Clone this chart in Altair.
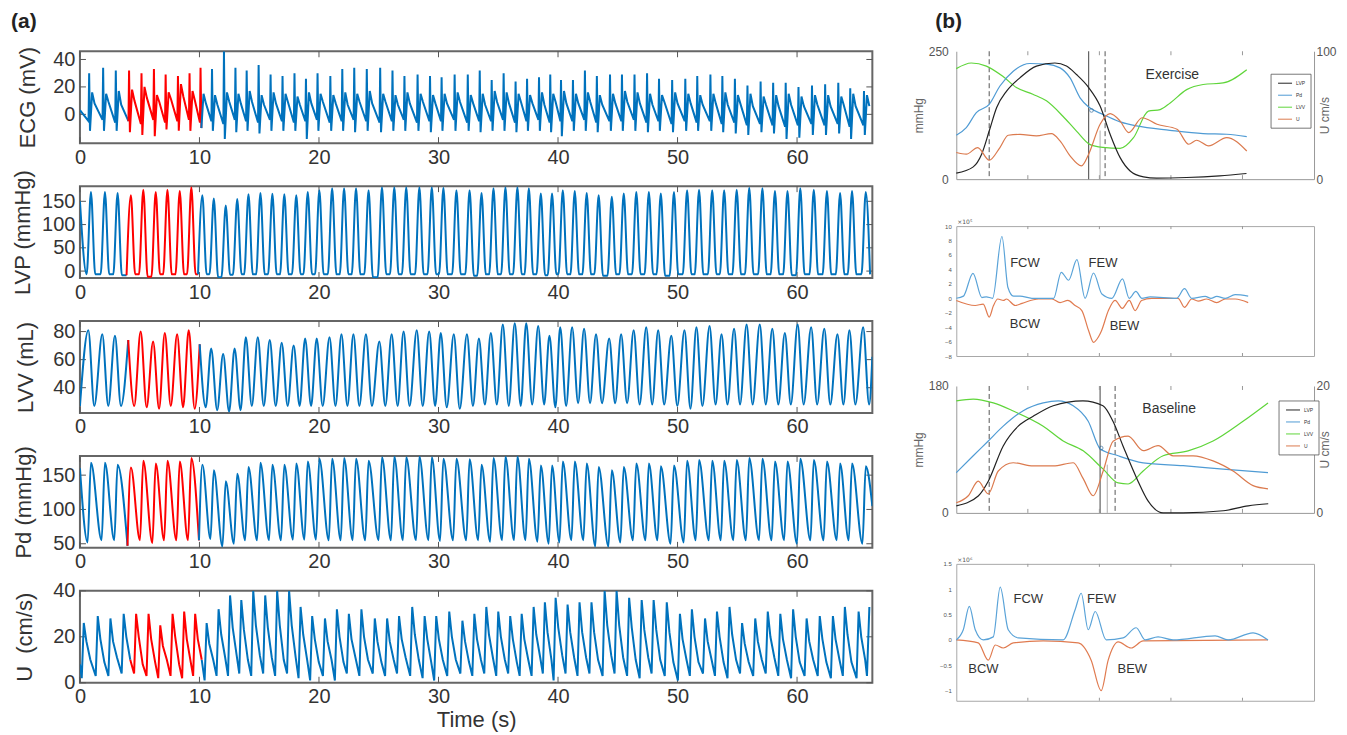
import altair as alt
import pandas as pd

FONT = "Liberation Sans"
BLUE = "#0072BD"
RED = "#FF0000"
INK = "#333333"

# ======================= (a) values =======================
BEAT_T = [0.92, 2.09, 3.15, 4.26, 5.30, 6.34, 7.32, 8.35, 9.32, 10.24,
          11.2, 12.2, 13.16, 14.1, 15.1, 16.1, 17.1, 18.1, 19.06, 20.03,
          21.1, 22.1, 23.1, 24.15, 25.27, 26.3, 27.3, 28.4, 29.44, 30.41,
          31.5, 32.6, 33.6, 34.6, 35.6, 36.6, 37.56, 38.56, 39.5, 40.4,
          41.4, 42.4, 43.4, 44.5, 45.5, 46.55, 47.6, 48.6, 49.7, 50.8,
          51.8, 52.9, 53.9, 54.95, 56.0, 57.1, 58.15, 59.2, 60.27, 61.4,
          62.5, 63.6, 64.6, 65.75]

ECG_R = [30, 34, 32, 32, 30, 33, 29, 28, 30, 34,
         33, 46, 34, 32, 36, 29, 28, 30, 26, 30,
         28, 33, 34, 33, 34, 32, 28, 29, 28, 27,
         29, 29, 32, 25, 30, 24, 26, 27, 29, 25,
         25, 32, 28, 29, 29, 29, 30, 26, 25, 26,
         28, 29, 28, 26, 21, 24, 23, 23, 20, 21,
         22, 23, 19, 17]
ECG_S = [-12, -12, -12, -13, -15, -16, -11, -12, -12, -10,
         -12, -18, -13, -12, -14, -12, -12, -12, -18, -12,
         -12, -12, -13, -12, -13, -12, -12, -12, -13, -12,
         -12, -12, -13, -12, -12, -13, -12, -12, -13, -16,
         -12, -12, -13, -12, -12, -12, -13, -12, -13, -12,
         -12, -12, -13, -14, -15, -13, -14, -18, -17, -15,
         -15, -14, -18, -15]
ECG_T = [16, 15, 17, 18, 20, 14, 16, 22, 17, 15,
         14, 16, 15, 17, 14, 16, 15, 13, 16, 15,
         14, 16, 15, 17, 15, 14, 16, 15, 14, 15,
         16, 14, 15, 17, 16, 15, 14, 16, 15, 17,
         15, 16, 14, 15, 17, 16, 15, 14, 16, 15,
         14, 15, 16, 14, 15, 13, 14, 15, 13, 14,
         14, 13, 15, 14]
ECG_D = [-5, -4, -6, -5, -7, -4, -6, -5, -4, -6,
         -5, -7, -4, -5, -6, -4, -5, -6, -5, -4,
         -6, -5, -4, -5, -6, -5, -4, -6, -5, -5,
         -4, -6, -5, -5, -4, -6, -5, -4, -6, -5,
         -5, -4, -6, -5, -5, -4, -6, -5, -7, -5,
         -6, -5, -7, -6, -8, -7, -8, -9, -8, -7,
         -8, -7, -9, -8]
ECG_E = [8, 9, 7, 10, 12, 9, 11, 13, 10, 8,
         7, 9, 8, 9, 7, 8, 9, 7, 8, 9,
         8, 7, 9, 8, 9, 7, 8, 9, 8, 8,
         9, 8, 7, 9, 8, 9, 8, 7, 9, 8,
         8, 9, 7, 8, 9, 8, 7, 9, 8, 8,
         7, 8, 7, 8, 6, 7, 6, 7, 6, 7,
         6, 7, 6, 6]
ECG_T0 = 3

LVP_PK = [170, 170, 168, 163, 175, 170, 175, 172, 180, 163,
          156, 141, 155, 165, 168, 166, 165, 163, 170, 174,
          178, 178, 178, 174, 180, 180, 180, 180, 180, 179,
          174, 174, 168, 178, 180, 180, 178, 167, 167, 174,
          172, 168, 163, 160, 167, 170, 170, 167, 170, 174,
          175, 174, 174, 175, 179, 178, 172, 172, 178, 175,
          172, 168, 172, 170]
LVP_MIN = [-7, -7, -7, -9, -7, -12, -7, -7, -7, -7,
           -7, -13, -8, -7, -7, -7, -7, -7, -7, -7,
           -7, -7, -7, -7, -13, -7, -7, -7, -7, -7,
           -7, -7, -10, -7, -7, -7, -7, -7, -9, -7,
           -7, -7, -7, -10, -7, -7, -7, -7, -10, -7,
           -7, -7, -7, -7, -7, -7, -7, -7, -9, -7,
           -7, -7, -7, -7]
LVP_T0, LVP_END = 150, -7

LVV_PK = [81, 78, 77, 74, 80, 73, 79, 78, 81, 71,
          68, 64, 68, 76, 76, 74, 72, 70, 75, 75,
          76, 78, 78, 78, 73, 78, 80, 81, 80, 79,
          78, 78, 75, 79, 85, 86, 86, 84, 77, 83,
          83, 82, 78, 75, 78, 81, 83, 81, 77, 81,
          83, 84, 78, 82, 85, 85, 82, 79, 85, 83,
          82, 78, 81, 83]
LVV_MIN = [27, 27, 27, 27, 26, 25, 27, 26, 25, 26,
           24, 23, 24, 27, 27, 27, 27, 27, 27, 27,
           27, 27, 27, 27, 27, 27, 27, 27, 27, 26,
           25, 27, 28, 28, 27, 27, 28, 28, 26, 27,
           29, 29, 29, 29, 29, 28, 28, 28, 27, 25,
           27, 28, 28, 28, 28, 28, 28, 28, 28, 28,
           28, 28, 28, 28]
LVV_T0, LVV_END = 27, 62

PD_PK = [168, 168, 165, 161, 171, 167, 171, 170, 175, 165,
         157, 141, 152, 162, 168, 165, 165, 167, 170, 174,
         174, 175, 174, 171, 176, 177, 176, 177, 176, 174,
         174, 173, 165, 175, 177, 177, 174, 164, 164, 170,
         170, 167, 162, 157, 162, 167, 167, 163, 164, 171,
         172, 171, 171, 172, 175, 174, 170, 170, 174, 172,
         170, 167, 167, 163]
PD_MIN = [52, 55, 55, 47, 55, 51, 55, 55, 55, 55,
          57, 46, 50, 55, 55, 55, 55, 56, 56, 56,
          55, 55, 55, 55, 55, 55, 55, 55, 55, 54,
          55, 55, 55, 53, 55, 55, 55, 53, 50, 52,
          55, 55, 46, 46, 52, 55, 55, 55, 50, 52,
          55, 55, 55, 55, 55, 55, 55, 55, 50, 55,
          55, 55, 55, 50]
PD_T0, PD_END = 160, 105

U_PK = [26, 29, 28, 30, 30, 30, 25, 30, 31, 30,
        26, 32, 38, 36, 40, 38, 40, 40, 33, 29,
        28, 32, 30, 32, 28, 28, 29, 33, 29, 29,
        31, 27, 30, 33, 31, 29, 30, 33, 35, 37,
        34, 35, 35, 40, 40, 37, 36, 36, 35, 30,
        32, 28, 31, 33, 26, 28, 31, 30, 32, 28,
        29, 29, 33, 31]
U_SH = [18, 19, 18, 20, 20, 19, 16, 20, 19, 19,
        17, 21, 24, 23, 25, 24, 25, 25, 21, 19,
        18, 20, 19, 20, 18, 18, 19, 21, 19, 19,
        20, 18, 19, 21, 20, 19, 19, 21, 22, 24,
        22, 22, 22, 25, 25, 24, 23, 23, 22, 19,
        20, 18, 20, 21, 17, 18, 20, 19, 20, 18,
        19, 19, 21, 20]
U_MID = [10, 9, 11, 10, 8, 9, 10, 8, 9, 10,
         10, 11, 12, 10, 12, 11, 10, 11, 10, 9,
         10, 9, 11, 10, 9, 10, 11, 10, 9, 10,
         10, 9, 10, 11, 10, 9, 10, 11, 10, 12,
         11, 11, 10, 12, 11, 10, 11, 10, 9, 10,
         9, 10, 9, 10, 9, 10, 11, 10, 9, 10,
         9, 10, 9, 10]
U_MIN = [2, 3, 3, 4, 4, 3, 2, 3, 2, 3,
         1, 3, 3, 4, 3, 4, 3, 4, 2, 1,
         3, 1, 4, 3, 4, 3, 4, 3, 2, 1,
         3, 4, 3, 4, 3, 4, 3, 3, 4, 1,
         4, 3, 4, 3, 4, 3, 2, 4, 3, 1,
         3, 4, 3, 2, 4, 3, 4, 3, 2, 3,
         3, 2, 3, 2]
U_T0 = 8
U_TAIL_T = [65.85, 66.05]
U_TAIL_V = [3, 33]

for arr in (ECG_R, ECG_S, ECG_T, ECG_D, ECG_E, LVP_PK, LVP_MIN, LVV_PK, LVV_MIN,
            PD_PK, PD_MIN, U_PK, U_SH, U_MID, U_MIN):
    assert len(arr) == len(BEAT_T), len(arr)

XT = [0, 10, 20, 30, 40, 50, 60]

# ======================= (b) values =======================
EX_X_LVP = [0, 23.7, 35.4, 46, 56.3, 70.3, 88.9, 112, 137.8, 154, 168, 185.3, 201, 215, 229, 243, 261.6, 280, 322, 368, 405.6]
EX_LVP = [11.7, 24, 48.7, 94, 139.6, 172, 198, 221, 227, 221, 204.5, 178.6, 143, 87.7, 42, 16, 4.5, 2, 3.2, 6.5, 11]
EX_X_PD = [0, 14, 28, 46, 61, 79.6, 103, 126, 145, 159, 173, 185, 205, 229, 252, 298.6, 345, 378, 406]
EX_PD = [85.7, 100.7, 130, 146, 182, 211, 226, 225, 217.5, 198, 159, 141, 126.6, 112, 104, 95.5, 89, 87.7, 83]
EX_X_LVV = [0, 21, 42, 65, 84, 107, 126, 149, 168, 186.5, 205, 229, 247.7, 268.5, 285, 299, 322, 345, 373, 406]
EX_LVV = [216, 227, 221, 201, 179, 166, 153, 123, 94, 68, 62, 60, 81, 133, 136, 149, 175, 185, 188, 214]
EX_X_U = [0, 14, 30, 46, 61, 72.6, 89, 112, 133, 145, 159, 175, 185, 201, 215, 229, 241, 259.8, 280.5, 308.5, 324.8, 336, 352.6, 378, 406]
EX_U = [20.8, 19.5, 24.7, 14.8, 24.7, 34.3, 35, 33.8, 35.6, 29.9, 18.2, 10.4, 19.5, 42.9, 51.2, 45.4, 36.4, 48, 42.9, 39, 27.3, 30.4, 26, 32.5, 22]
EX_DASH = [46, 208]
EX_SOLID = [185]
EX_THIN = [201]
EX_MARK = [189, 134.4]

BL_X_LVP = [0, 30.7, 44.7, 65.6, 86.6, 107.5, 135.5, 177, 205, 219, 233, 254, 268, 289, 317, 373, 408, 436]
BL_LVP = [10, 24, 45, 95, 123, 137, 152, 159, 152, 130, 95, 45, 17, 0, 0, 3, 10, 13]
BL_X_PD = [0, 23.7, 44.7, 65.6, 93.6, 121.5, 142.5, 163.4, 184.4, 201.1, 226.3, 261.2, 317, 372.9, 435.7]
BL_PD = [57, 81, 102, 123, 145, 156, 159, 152, 130, 91, 81, 71, 67, 62, 57]
BL_X_LVV = [0, 23.7, 51.7, 79.6, 121.5, 149.4, 177.4, 205.3, 226.3, 240.2, 261.2, 289.1, 324, 358.9, 400.8, 435.7]
BL_LVV = [159, 161.5, 156, 144.5, 123, 102, 88, 62, 42.5, 41, 59.5, 81, 88, 102, 130, 156]
BL_X_U = [0, 16.8, 30.7, 44.7, 58.7, 79.6, 107.5, 135.5, 163.4, 177.4, 191.3, 205.3, 219.2, 240.2, 261.2, 282.1, 303.1, 331, 358.9, 386.8, 414.8, 435.7]
BL_U = [1.6, 2.7, 5, 3, 6.6, 7.9, 7.4, 7.4, 7.9, 5.4, 2.7, 6.6, 11.3, 12.1, 9.8, 10.6, 9, 9, 8.2, 6.6, 4.3, 3.8]
BL_DASH = [46, 222]
BL_SOLID = [201]
BL_THIN = [211]
BL_MARK = [202.5, 92]

W1_FX = [0, 10, 23.3, 35.8, 42, 50.7, 63.8, 72.2, 80, 89, 105.7, 136, 146.7, 157, 168.6, 180, 191.8, 203.5, 217.5, 232.3,
         241.7, 251, 259.4, 271, 308, 319, 329, 348, 356, 364, 376, 389.7, 408]
W1_F = [0, 0.3, 3.46, 0.1, 0.2, 0, 8.56, 1.5, 0.3, 0.3, 0, 0, 3.6, 2.5, 5.36, 0, 3.5, 0.6, 0, 2.7,
        0, 0.95, 0, 0.2, 0, 1.33, 0, 0.25, 0, 0.25, 0, 0.5, 0.3]
W1_BX = [0, 26.5, 37.7, 46, 52, 58, 66, 70, 82.4, 92, 115, 133.7, 145, 156, 166, 175.5, 185, 191.8, 199, 203,
         212.6, 222, 232, 241.7, 250, 259, 273, 310, 319, 329, 338, 350, 364, 376, 390, 408]
W1_B = [-0.3, -1.0, -0.8, -2.6, -1.0, -0.1, -0.3, -0.1, -1.0, -0.7, -0.1, -0.1, -0.6, -0.3, -1.0, -1.7, -4.5, -6.1, -5.3, -4.5,
        -1.7, -0.3, -1.4, -0.3, -1.7, -0.3, 0, 0, -1.25, -0.1, -0.4, -0.1, -0.6, -0.1, -0.1, -0.6]
W1_LABELS = ["FCW", "FEW", "BCW", "BEW"]
W1_LX = [96, 205, 96, 235]
W1_LV = [4.9, 4.9, -3.6, -3.85]

W2_FX = [0, 9.8, 18.2, 26.5, 37.7, 51.7, 61.4, 72.6, 86.6, 149.4, 166.2, 174.6, 184.4, 194.2, 209.5, 233.2, 251.4, 264,
         282, 303, 361.7, 380, 414.8, 435.7]
W2_F = [0, 0.2, 0.66, 0.2, 0, 0.06, 1.04, 0.2, 0.04, 0, 0.6, 0.92, 0.2, 0.56, 0, 0.04, 0.24, 0,
        0.06, 0, 0.08, 0, 0.14, 0]
W2_BX = [0, 30.7, 44.7, 54.5, 65.6, 79.6, 121.5, 170.4, 188.5, 202.5, 212.3, 226.3, 244.4, 261.2, 435.7]
W2_B = [0, -0.06, -0.4, -0.1, -0.16, -0.06, -0.02, -0.06, -0.4, -1.0, -0.4, -0.04, -0.16, -0.02, 0]
W2_LABELS = ["FCW", "FEW", "BCW", "BEW"]
W2_LX = [100.6, 203, 38, 246]
W2_LV = [0.81, 0.81, -0.57, -0.57]

SER = ["LVP", "Pd", "LVV", "U"]
SER_COL = ["#222222", "#4F9BD4", "#5FD53A", "#DB7A4E"]
WBLUE, WORANGE = "#5AA3D8", "#E07B50"


# ======================= helpers =======================
def segmented(verts, lo, hi):
    rows, part, prev = [], 0, None
    for t, v in verts:
        seg = "red" if lo <= t <= hi else "blue"
        if prev is not None and seg != prev:
            rows.append({"t": t, "v": v, "seg": prev, "part": part})
            part += 1
        rows.append({"t": t, "v": v, "seg": seg, "part": part})
        prev = seg
    df = pd.DataFrame(rows)
    df["o"] = range(len(df))
    return df


n = len(BEAT_T)
ecg_v = [(0.0, ECG_T0)]
lvp_v = [(0.0, LVP_T0)]
lvv_v = [(0.0, LVV_T0)]
pd_v = [(0.0, PD_T0)]
u_v = [(0.0, U_T0)]
for i, tp in enumerate(BEAT_T):
    tr = tp - 0.15
    ecg_v += [(tr - 0.05, ECG_D[i]), (tr, ECG_R[i]), (tr + 0.07, ECG_S[i]),
              (tr + 0.25, ECG_T[i]), (tr + 0.45, ECG_E[i])]
    nxt = LVP_MIN[i + 1] if i + 1 < n else LVP_END
    lvp_v += [(tp - 0.36, LVP_MIN[i]), (tp, LVP_PK[i]), (tp + 0.36, nxt)]
    lvv_v += [(tp - 0.22, LVV_PK[i]), (tp + 0.28, LVV_MIN[i])]
    pd_v += [(tp - 0.28, PD_MIN[i]), (tp, PD_PK[i])]
    tu = tp - 0.6
    u_v += [(tu - 0.17, U_MIN[i]), (tu, U_PK[i]), (tu + 0.22, U_SH[i]), (tu + 0.55, U_MID[i])]
lvv_v.append((66.3, LVV_END))
pd_v.append((66.3, PD_END))
u_v += list(zip(U_TAIL_T, U_TAIL_V))

W_A, H_A = 793, 92


def a_panel(df, ydom, yticks, title, title_x, interp, xtitle=None, extra=()):
    xs = alt.Scale(domain=[0, 66.3], nice=False, zero=False)
    ys = alt.Scale(domain=ydom, nice=False, zero=False)
    xax = alt.Axis(values=XT, format="d", title=xtitle, tickSize=0, domain=False, grid=False,
                   labelPadding=4, labelFlush=False, labelFontSize=20, labelColor=INK,
                   titleFontSize=22, titleColor=INK, titleFontWeight="normal", titlePadding=3)
    yax = alt.Axis(values=yticks, format="d", title=title, tickSize=0, domain=False, grid=False,
                   labelPadding=5, labelFontSize=20, labelColor=INK,
                   titleFontSize=22, titleColor=INK, titleFontWeight="normal",
                   titleX=title_x, titleY=H_A / 2, titleAngle=270, titleBaseline="middle",
                   titleAlign="center")
    X = alt.X("t:Q", scale=xs, axis=xax)
    Y = alt.Y("v:Q", scale=ys, axis=yax)
    tx = pd.DataFrame({"t": XT})
    ty = pd.DataFrame({"v": yticks})
    rule = dict(color="#555555", strokeWidth=1)
    layers = [
        alt.Chart(tx).mark_rule(**rule).encode(x=X, y=alt.value(0), y2=alt.value(6)),
        alt.Chart(tx).mark_rule(**rule).encode(x=X, y=alt.value(H_A - 6), y2=alt.value(H_A)),
        alt.Chart(ty).mark_rule(**rule).encode(y=Y, x=alt.value(0), x2=alt.value(6)),
        alt.Chart(ty).mark_rule(**rule).encode(y=Y, x=alt.value(W_A - 6), x2=alt.value(W_A)),
        alt.Chart(df).mark_line(strokeWidth=2, interpolate=interp, clip=True).encode(
            x=X, y=Y,
            color=alt.Color("seg:N", scale=alt.Scale(domain=["blue", "red"], range=[BLUE, RED]), legend=None),
            detail="part:N", order="o:Q"),
    ]
    layers += list(extra)
    return alt.layer(*layers).properties(
        width=W_A, height=H_A, view=alt.ViewBackground(stroke="#666666", strokeWidth=2))


tag_a = alt.Chart(pd.DataFrame({"k": [0]})).mark_text(
    text="(a)", fontSize=21, fontWeight="bold", align="left", baseline="top", color="#222222"
).encode(x=alt.value(-69), y=alt.value(-40))

ecg = a_panel(segmented(ecg_v, 3.85, 10.1), [-21, 46], [0, 20, 40], "ECG (mV)", -52, "linear", extra=[tag_a])
lvp = a_panel(segmented(lvp_v, 3.84, 9.8), [-15, 182.6], [0, 50, 100, 150], "LVP (mmHg)", -57, "monotone")
lvv = a_panel(segmented(lvv_v, 3.95, 9.95), [22, 87.5], [40, 60, 80], "LVV (mL)", -54, "monotone")
pdp = a_panel(segmented(pd_v, 3.84, 9.8), [44, 178], [50, 100, 150], "Pd (mmHg)", -56, "monotone")
uvp = a_panel(segmented(u_v, 3.9, 10.0), [0, 40], [0, 20, 40], "U\u00a0\u00a0(cm/s)", -55, "linear",
              xtitle="Time (s)")

A = alt.vconcat(ecg, lvp, lvv, pdp, uvp, spacing=43, bounds="flush")

# ======================= (b) =======================
W_B = 358
XB = [0, 100, 200, 300, 400, 500]
GREY = "#999999"
BLAB = "#555555"
ONE = pd.DataFrame({"k": [0]})


def legend_layers(lx, ly):
    out = [alt.Chart(ONE).mark_rect(fill="white", stroke="#555555", strokeWidth=0.8).encode(
        x=alt.value(lx), x2=alt.value(lx + 40), y=alt.value(ly), y2=alt.value(ly + 54))]
    for k, (name, col) in enumerate(zip(SER, SER_COL)):
        yy = ly + 9 + 12 * k
        out.append(alt.Chart(ONE).mark_rule(color=col, strokeWidth=1).encode(
            x=alt.value(lx + 7), x2=alt.value(lx + 21), y=alt.value(yy)))
        out.append(alt.Chart(ONE).mark_text(text=name, fontSize=5, color="#333333", align="left",
                                            baseline="middle").encode(x=alt.value(lx + 25), y=alt.value(yy)))
    return out


def b_main(H, left_top, right_top, lvp, pdv, lvv, u, dash, solid, thin, mark, label, lab_x, lab_v,
           leg_x, leg_y, tag=None):
    xs = alt.Scale(domain=[0, 500], nice=False, zero=False)
    xax = alt.Axis(values=XB, labels=False, ticks=False, title=None, grid=False,
                   domainColor=GREY, domainWidth=1)
    X = alt.X("x:Q", scale=xs, axis=xax)
    yl_ax = alt.Axis(values=[0, left_top], format="d", title="mmHg", orient="left", tickSize=0,
                     grid=False, domainColor=GREY, labelPadding=8, labelFontSize=12, labelColor=BLAB,
                     titleFontSize=12, titleColor="#666666", titleFontWeight="normal",
                     titleX=-38, titleY=H / 2, titleAngle=270, titleBaseline="middle", titleAlign="center")
    yr_ax = alt.Axis(values=[0, right_top], format="d", title="U cm/s", orient="right", tickSize=0,
                     grid=False, domainColor=GREY, labelPadding=2, labelFontSize=12, labelColor=BLAB,
                     titleFontSize=12, titleColor="#666666", titleFontWeight="normal",
                     titleX=10, titleY=H / 2, titleAngle=270, titleBaseline="middle", titleAlign="center")
    YL = alt.Y("v:Q", scale=alt.Scale(domain=[0, left_top], nice=False, zero=False), axis=yl_ax)
    YR = alt.Y("v:Q", scale=alt.Scale(domain=[0, right_top], nice=False, zero=False), axis=yr_ax)

    def line(xs_, vs_, col, Y):
        return alt.Chart(pd.DataFrame({"x": xs_, "v": vs_})).mark_line(
            strokeWidth=1.2, interpolate="monotone", color=col).encode(x=X, y=Y)

    marker = alt.Chart(pd.DataFrame({"x": [mark[0]], "v": [mark[1]]})).mark_point(
        shape="circle", size=14, filled=False, color="#3A6E9A", strokeWidth=1).encode(x=X, y=YL)
    txt = alt.Chart(pd.DataFrame({"x": [lab_x], "v": [lab_v], "label": [label]})).mark_text(
        fontSize=14, color=INK).encode(x=X, y=YL, text="label:N")
    left = alt.layer(line(lvv[0], lvv[1], SER_COL[2], YL), line(pdv[0], pdv[1], SER_COL[1], YL),
                     line(lvp[0], lvp[1], SER_COL[0], YL), marker, txt)
    right = line(u[0], u[1], SER_COL[3], YR)
    tk = pd.DataFrame({"x": XB[1:-1]})
    extra = [
        alt.Chart(pd.DataFrame({"x": dash})).mark_rule(strokeDash=[5, 3], color="#555555", strokeWidth=1).encode(x=X),
        alt.Chart(pd.DataFrame({"x": solid})).mark_rule(color="#555555", strokeWidth=1.1).encode(x=X),
        alt.Chart(pd.DataFrame({"x": thin})).mark_rule(color="#9a9a9a", strokeWidth=0.8).encode(
            x=X, y=alt.value(H * 0.62), y2=alt.value(H)),
        alt.Chart(tk).mark_rule(color=GREY, strokeWidth=1).encode(x=X, y=alt.value(0), y2=alt.value(4)),
        alt.Chart(tk).mark_rule(color=GREY, strokeWidth=1).encode(x=X, y=alt.value(H - 4), y2=alt.value(H)),
    ]
    if tag is not None:
        extra.append(tag)
    return alt.layer(*extra, left, right, *legend_layers(leg_x, leg_y)).resolve_scale(
        y="independent").properties(width=W_B, height=H, view=alt.ViewBackground(stroke=None))


def b_wave(H, fx, fv, bx, bv, ydom, yticks, fmt, expo, labels, lx, lv):
    xs = alt.Scale(domain=[0, 500], nice=False, zero=False)
    xax = alt.Axis(values=XB, labels=False, ticks=False, title=None, grid=False, domain=False)
    yax = alt.Axis(values=yticks, format=fmt, title=None, tickSize=0, grid=False, domain=False,
                   labelPadding=5, labelFontSize=6, labelColor=BLAB)
    X = alt.X("x:Q", scale=xs, axis=xax)
    Y = alt.Y("v:Q", scale=alt.Scale(domain=ydom, nice=False, zero=False), axis=yax)
    tk = pd.DataFrame({"x": XB[1:-1]})
    layers = [
        alt.Chart(tk).mark_rule(color=GREY, strokeWidth=1).encode(x=X, y=alt.value(0), y2=alt.value(3)),
        alt.Chart(tk).mark_rule(color=GREY, strokeWidth=1).encode(x=X, y=alt.value(H - 3), y2=alt.value(H)),
        alt.Chart(pd.DataFrame({"x": bx, "v": bv})).mark_line(color=WORANGE, strokeWidth=1.2,
                                                              interpolate="monotone").encode(x=X, y=Y),
        alt.Chart(pd.DataFrame({"x": fx, "v": fv})).mark_line(color=WBLUE, strokeWidth=1.2,
                                                              interpolate="monotone").encode(x=X, y=Y),
        alt.Chart(pd.DataFrame({"x": lx, "v": lv, "label": labels})).mark_text(
            fontSize=13, color=INK).encode(x=X, y=Y, text="label:N"),
        alt.Chart(ONE).mark_text(
            text=expo, fontSize=6, color=BLAB, align="left", baseline="bottom",
            font="DejaVu Sans").encode(x=alt.value(1), y=alt.value(-1)),
    ]
    return alt.layer(*layers).properties(
        width=W_B, height=H, view=alt.ViewBackground(stroke="#a8a8a8", strokeWidth=1))


def spacer(h):
    return alt.Chart(ONE).mark_point(opacity=0).properties(
        width=W_B, height=h, view=alt.ViewBackground(stroke=None))


tag_b = alt.Chart(ONE).mark_text(
    text="(b)", fontSize=21, fontWeight="bold", align="left", baseline="top", color="#222222"
).encode(x=alt.value(-21), y=alt.value(-40))

exercise = b_main(128, 250, 100, (EX_X_LVP, EX_LVP), (EX_X_PD, EX_PD), (EX_X_LVV, EX_LVV),
                  (EX_X_U, EX_U), EX_DASH, EX_SOLID, EX_THIN, EX_MARK, "Exercise", 302, 203,
                  315, 23, tag=tag_b)
wave1 = b_wave(130, W1_FX, W1_F, W1_BX, W1_B, [-8, 10], [-8, -6, -4, -2, 0, 2, 4, 6, 8, 10], "d",
               "\u00d710\u2075", W1_LABELS, W1_LX, W1_LV)
baseline = b_main(127, 180, 20, (BL_X_LVP, BL_LVP), (BL_X_PD, BL_PD), (BL_X_LVV, BL_LVV),
                  (BL_X_U, BL_U), BL_DASH, BL_SOLID, BL_THIN, BL_MARK, "Baseline", 297.5, 147.4,
                  323, 15)
wave2 = b_wave(137, W2_FX, W2_F, W2_BX, W2_B, [-1.2, 1.5], [-1, -0.5, 0, 0.5, 1, 1.5], "~g",
               "\u00d710\u2076", W2_LABELS, W2_LX, W2_LV)

B = alt.vconcat(exercise, spacer(47), wave1, spacer(30), baseline, spacer(51), wave2,
                spacing=0, bounds="flush")

chart = alt.hconcat(A, B, spacing=38).properties(
    padding={"left": 2, "top": 2, "right": 2, "bottom": 2}
).configure(font=FONT).configure_view(stroke=None).configure_axis(grid=False)

chart.save("out.html", embed_options={"renderer": "svg", "actions": False})
